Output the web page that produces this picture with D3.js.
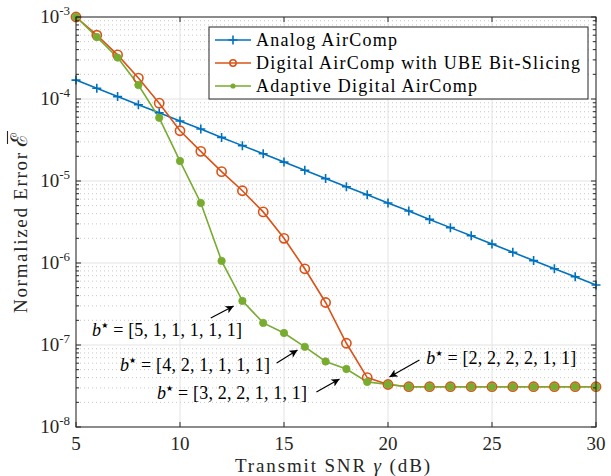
<!DOCTYPE html>
<html><head><meta charset="utf-8">
<script src="https://cdn.jsdelivr.net/npm/d3@7"></script>
<style>body{margin:0;background:#fff}svg{display:block}</style>
</head><body>
<svg id="chart" width="611" height="476"></svg>
<script>
const snr = d3.range(5, 31);
const analog = [1.7e-4,1.35e-4,1.07e-4,8.5e-5,6.8e-5,5.4e-5,4.3e-5,3.4e-5,2.7e-5,2.15e-5,1.7e-5,1.35e-5,1.07e-5,8.5e-6,6.8e-6,5.4e-6,4.3e-6,3.4e-6,2.7e-6,2.15e-6,1.7e-6,1.35e-6,1.07e-6,8.5e-7,6.8e-7,5.4e-7];
const digitalUBE = [1e-3,6.0e-4,3.45e-4,1.8e-4,8.9e-5,4.1e-5,2.3e-5,1.3e-5,7.6e-6,4.2e-6,2.0e-6,8.5e-7,3.3e-7,1.05e-7,4.0e-8,3.3e-8,3.1e-8,3.1e-8,3.1e-8,3.1e-8,3.1e-8,3.1e-8,3.1e-8,3.1e-8,3.1e-8,3.1e-8];
const adaptive = [1e-3,5.7e-4,3.2e-4,1.48e-4,5.9e-5,1.75e-5,5.4e-6,1.06e-6,3.45e-7,1.86e-7,1.4e-7,9.5e-8,6.3e-8,5.1e-8,3.55e-8,3.3e-8,3.1e-8,3.1e-8,3.1e-8,3.1e-8,3.1e-8,3.1e-8,3.1e-8,3.1e-8,3.1e-8,3.1e-8];
const seriesNames = ["Analog AirComp","Digital AirComp with UBE Bit-Slicing","Adaptive Digital AirComp"];
const xTicks = [5,10,15,20,25,30];
const yExponents = [-3,-4,-5,-6,-7,-8];
const annotations = [
  {vec:"[5, 1, 1, 1, 1, 1]", tx:5.77, ty:1.52e-7, ax0:11.48, ay0:2.13e-7, ax1:12.58, ay1:2.99e-7},
  {vec:"[4, 2, 1, 1, 1, 1]", tx:7.11, ty:5.7e-8, ax0:14.65, ay0:6.03e-8, ax1:15.65, ay1:8.69e-8},
  {vec:"[3, 2, 2, 1, 1, 1]", tx:8.89, ty:2.6e-8, ax0:16.56, ay0:2.67e-8, ax1:17.67, ay1:3.85e-8},
  {vec:"[2, 2, 2, 2, 1, 1]", tx:21.84, ty:6.93e-8, ax0:21.51, ay0:6.56e-8, ax1:20.07, ay1:4.07e-8}
];

const colors = ["#0072BD","#D95319","#77AC30"];
const FONT = "'Liberation Serif', 'Times New Roman', serif";
const svg = d3.select("#chart");
const L=76, R=596, T=17, B=427;
const x = d3.scaleLinear().domain([5,30]).range([L,R]);
const y = d3.scaleLog().domain([1e-8,1e-3]).range([B,T]);

// minor grid
const minorVals = [];
for (let e=-8;e<-3;e++) for (let k=2;k<=9;k++) minorVals.push(k*Math.pow(10,e));
const g = svg.append("g");
g.selectAll(".mg").data(minorVals).join("line")
  .attr("x1",L).attr("x2",R).attr("y1",d=>y(d)).attr("y2",d=>y(d))
  .attr("stroke","#c8c8c8").attr("stroke-width",1).attr("stroke-dasharray","1,3");
// major grid
g.selectAll(".gy").data(yExponents).join("line")
  .attr("x1",L).attr("x2",R).attr("y1",d=>y(Math.pow(10,d))).attr("y2",d=>y(Math.pow(10,d)))
  .attr("stroke","#e3e3e3").attr("stroke-width",1);
g.selectAll(".gx").data(xTicks).join("line")
  .attr("y1",T).attr("y2",B).attr("x1",d=>x(d)).attr("x2",d=>x(d))
  .attr("stroke","#e3e3e3").attr("stroke-width",1);

// series
const all = [analog, digitalUBE, adaptive];
const line = d3.line().x((d,i)=>x(snr[i])).y(d=>y(d));
all.forEach((s,si)=>{
  svg.append("path").datum(s).attr("d",line).attr("fill","none")
    .attr("stroke",colors[si]).attr("stroke-width",1.6);
});
function drawMarker(sel, si, cx, cy){
  if(si===0){
    sel.append("path").attr("d",`M${cx-4.5},${cy}H${cx+4.5}M${cx},${cy-4.5}V${cy+4.5}`)
      .attr("stroke",colors[0]).attr("stroke-width",1.6);
  } else if(si===1){
    sel.append("circle").attr("cx",cx).attr("cy",cy).attr("r",4.6)
      .attr("fill","none").attr("stroke",colors[1]).attr("stroke-width",1.6);
  } else {
    sel.append("circle").attr("cx",cx).attr("cy",cy).attr("r",3.7)
      .attr("fill",colors[2]).attr("stroke",colors[2]).attr("stroke-width",0.8);
  }
}
all.forEach((s,si)=>{
  const mg = svg.append("g");
  s.forEach((v,i)=>drawMarker(mg, si, x(snr[i]), y(v)));
});

// axes box
svg.append("rect").attr("x",L).attr("y",T).attr("width",R-L).attr("height",B-T)
  .attr("fill","none").attr("stroke","#262626").attr("stroke-width",1);
const tk = svg.append("g").attr("stroke","#262626").attr("stroke-width",1);
xTicks.forEach(v=>{
  tk.append("line").attr("x1",x(v)).attr("x2",x(v)).attr("y1",B).attr("y2",B-5);
  tk.append("line").attr("x1",x(v)).attr("x2",x(v)).attr("y1",T).attr("y2",T+5);
});
yExponents.forEach(e=>{
  const p=y(Math.pow(10,e));
  tk.append("line").attr("x1",L).attr("x2",L+5).attr("y1",p).attr("y2",p);
  tk.append("line").attr("x1",R).attr("x2",R-5).attr("y1",p).attr("y2",p);
});
minorVals.forEach(v=>{
  const p=y(v);
  tk.append("line").attr("x1",L).attr("x2",L+3).attr("y1",p).attr("y2",p);
  tk.append("line").attr("x1",R).attr("x2",R-3).attr("y1",p).attr("y2",p);
});

// tick labels
const lab = svg.append("g").attr("font-family",FONT).attr("fill","#262626");
xTicks.forEach(v=>{
  lab.append("text").attr("x",x(v)).attr("y",B+23).attr("text-anchor","middle")
    .attr("font-size",19).text(v);
});
yExponents.forEach(e=>{
  const t = lab.append("text").attr("x",L-6).attr("y",y(Math.pow(10,e))+6)
    .attr("text-anchor","end").attr("font-size",19);
  t.append("tspan").text("10");
  t.append("tspan").attr("dy",-8).attr("font-size",13).text("-"+(-e));
});
// axis titles
const xt = lab.append("text").attr("x",235).attr("y",472)
  .attr("font-size",19).attr("textLength",195).attr("lengthAdjust","spacing");
xt.append("tspan").text("Transmit SNR ");
xt.append("tspan").attr("font-style","italic").text("γ");
xt.append("tspan").text(" (dB)");
const ylg = lab.append("g").attr("transform",`translate(27,313) rotate(-90)`);
ylg.append("text").attr("x",0).attr("y",0)
  .attr("font-size",19).attr("textLength",160).attr("lengthAdjust","spacing")
  .text("Normalized Error");
ylg.append("text").attr("x",166).attr("y",0)
  .attr("font-family","'DejaVu Serif'").attr("font-size",23).text("ℰ");
ylg.append("line").attr("x1",169).attr("x2",182).attr("y1",-19.5).attr("y2",-19.5)
  .attr("stroke","#262626").attr("stroke-width",1.1);

// legend
const lg = svg.append("g");
lg.append("rect").attr("x",209).attr("y",27).attr("width",379).attr("height",72)
  .attr("fill","#fff").attr("stroke","#262626").attr("stroke-width",1);
const legendW = [141, 324, 221];
seriesNames.forEach((n,i)=>{
  const cy = 40 + i*23;
  lg.append("line").attr("x1",215).attr("x2",251).attr("y1",cy).attr("y2",cy)
    .attr("stroke",colors[i]).attr("stroke-width",1.6);
  const mg = lg.append("g");
  if(i===0) drawMarker(mg,0,233,cy);
  else if(i===1) mg.append("circle").attr("cx",233).attr("cy",cy).attr("r",3.2).attr("fill","none").attr("stroke",colors[1]).attr("stroke-width",1.5);
  else mg.append("circle").attr("cx",233).attr("cy",cy).attr("r",2.6).attr("fill",colors[2]);
  lg.append("text").attr("x",256).attr("y",cy+6).attr("font-family",FONT)
    .attr("font-size",18).attr("fill","#000")
    .attr("textLength",legendW[i]).attr("lengthAdjust","spacing").text(n);
});

// annotations
svg.append("defs").append("marker").attr("id","ah").attr("viewBox","0 0 10 10")
  .attr("refX",10).attr("refY",5).attr("markerWidth",11).attr("markerHeight",8)
  .attr("markerUnits","userSpaceOnUse").attr("orient","auto")
  .append("path").attr("d","M0,0L10,5L0,10L2.5,5Z").attr("fill","#000");
const an = svg.append("g").attr("font-family",FONT).attr("font-size",18).attr("fill","#000");
annotations.forEach(a=>{
  an.append("line").attr("x1",x(a.ax0)).attr("y1",y(a.ay0)).attr("x2",x(a.ax1)).attr("y2",y(a.ay1))
    .attr("stroke","#000").attr("stroke-width",1.2).attr("marker-end","url(#ah)");
  const t = an.append("text").attr("x",x(a.tx)).attr("y",y(a.ty)+6)
    .attr("textLength",150).attr("lengthAdjust","spacing");
  t.append("tspan").attr("font-style","italic").text("b");
  t.append("tspan").attr("dy",-8).attr("font-family","'DejaVu Sans'").attr("font-size",8).text("★");
  t.append("tspan").attr("dy",8).text(" = "+a.vec);
});
</script>
</body></html>
